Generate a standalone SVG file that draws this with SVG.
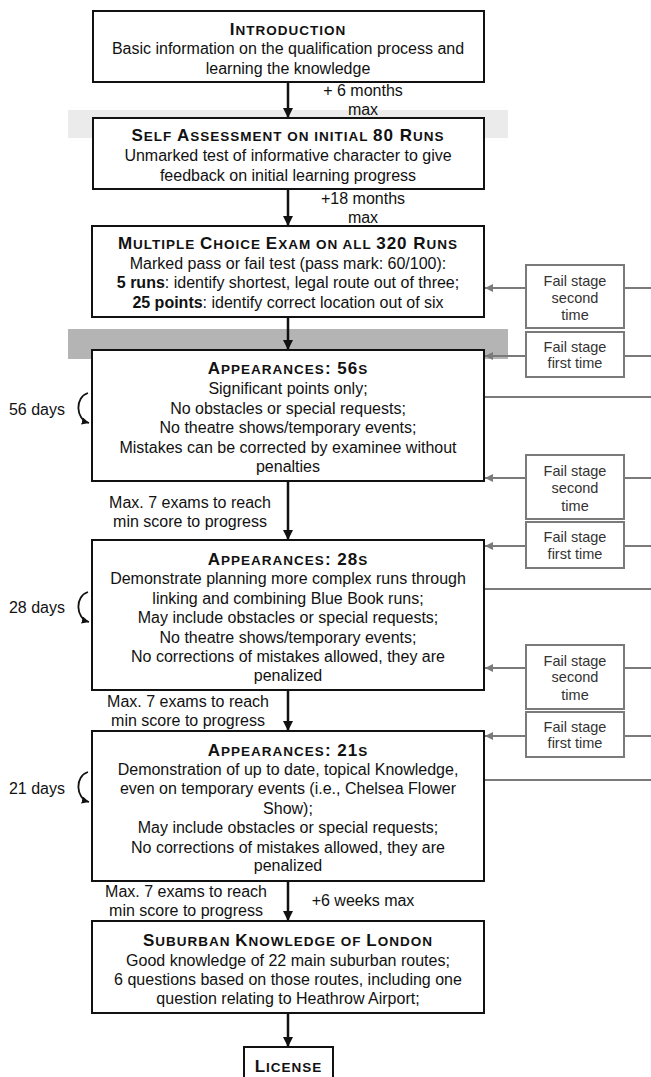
<svg xmlns="http://www.w3.org/2000/svg" width="651" height="1077" viewBox="0 0 651 1077">
<style>
text{font-family:"Liberation Sans",Arial,sans-serif;fill:#111}
.b{font-size:16px;text-anchor:middle}
.t{font-weight:bold;text-anchor:middle;letter-spacing:1px}
.L{font-size:17px}
.s{font-size:13.5px}
.box{fill:#fff;stroke:#111;stroke-width:2}
.fb{fill:#fff;stroke:#7a7a7a;stroke-width:2}
.ft{font-size:14.5px;text-anchor:middle;fill:#333}
.lab{font-size:16px}
.ar{stroke:#111;stroke-width:2.5;fill:none}
.ga{stroke:#7a7a7a;stroke-width:2;fill:none}
.cv{stroke:#111;stroke-width:1.8;fill:none}
</style>
<defs>
<marker id="ah" viewBox="0 0 10 10" refX="10" refY="5" markerWidth="4" markerHeight="4" orient="auto" markerUnits="strokeWidth"><path d="M0,0L10,5L0,10z" fill="#111"/></marker>
<marker id="gh" viewBox="0 0 10 10" refX="10" refY="5" markerWidth="4" markerHeight="4" orient="auto" markerUnits="strokeWidth"><path d="M0,0L10,5L0,10z" fill="#7a7a7a"/></marker>
<marker id="ch" viewBox="0 0 10 10" refX="10" refY="5" markerWidth="4" markerHeight="4" orient="auto" markerUnits="strokeWidth"><path d="M0,0L10,5L0,10z" fill="#111"/></marker>
</defs>
<g id="bands">
<rect x="68" y="110" width="440" height="28" fill="#ebebeb"/>
<rect x="68" y="329" width="440" height="30" fill="#b4b4b4"/>
</g>
<g id="connectors">
<line class="ar" x1="288" y1="82" x2="288" y2="118" marker-end="url(#ah)"/>
<line class="ar" x1="288" y1="189" x2="288" y2="226" marker-end="url(#ah)"/>
<line class="ar" x1="288" y1="317" x2="288" y2="350" marker-end="url(#ah)"/>
<line class="ar" x1="288" y1="481" x2="288" y2="540" marker-end="url(#ah)"/>
<line class="ar" x1="288" y1="690" x2="288" y2="731" marker-end="url(#ah)"/>
<line class="ar" x1="288" y1="881" x2="288" y2="921" marker-end="url(#ah)"/>
<line class="ar" x1="288" y1="1013" x2="288" y2="1047" marker-end="url(#ah)"/>
<line class="ga" x1="526" y1="288" x2="485" y2="288" marker-end="url(#gh)"/>
<line class="ga" x1="526" y1="356" x2="485" y2="356" marker-end="url(#gh)"/>
<line class="ga" x1="624" y1="288" x2="651" y2="288"/>
<line class="ga" x1="624" y1="356" x2="651" y2="356"/>
<line class="ga" x1="484" y1="397" x2="651" y2="397"/>
<line class="ga" x1="526" y1="478" x2="485" y2="478" marker-end="url(#gh)"/>
<line class="ga" x1="526" y1="546" x2="485" y2="546" marker-end="url(#gh)"/>
<line class="ga" x1="624" y1="478" x2="651" y2="478"/>
<line class="ga" x1="624" y1="546" x2="651" y2="546"/>
<line class="ga" x1="484" y1="589" x2="651" y2="589"/>
<line class="ga" x1="526" y1="668" x2="485" y2="668" marker-end="url(#gh)"/>
<line class="ga" x1="526" y1="736" x2="485" y2="736" marker-end="url(#gh)"/>
<line class="ga" x1="624" y1="668" x2="651" y2="668"/>
<line class="ga" x1="624" y1="736" x2="651" y2="736"/>
<line class="ga" x1="484" y1="780" x2="651" y2="780"/>
<path class="cv" d="M88,393 C75,397 75,419 89,423" marker-end="url(#ch)"/>
<path class="cv" d="M88,592 C75,596 75,618 89,622" marker-end="url(#ch)"/>
<path class="cv" d="M88,772 C75,776 75,798 89,802" marker-end="url(#ch)"/>
</g>
<g id="labels">
<text class="b" x="363" y="96">+ 6 months</text>
<text class="b" x="363" y="115">max</text>
<text class="b" x="363" y="204">+18 months</text>
<text class="b" x="363" y="223">max</text>
<text class="b" x="190" y="508">Max. 7 exams to reach</text>
<text class="b" x="190" y="527">min score to progress</text>
<text class="b" x="188" y="707">Max. 7 exams to reach</text>
<text class="b" x="188" y="726">min score to progress</text>
<text class="b" x="186" y="897">Max. 7 exams to reach</text>
<text class="b" x="186" y="916">min score to progress</text>
<text class="b" x="363" y="906">+6 weeks max</text>
<text class="lab" x="65" y="415" text-anchor="end">56 days</text>
<text class="lab" x="65" y="613" text-anchor="end">28 days</text>
<text class="lab" x="65" y="794" text-anchor="end">21 days</text>
</g>
<g id="introduction">
<rect class="box" x="93" y="11" width="391" height="71"/>
<text class="t" x="288" y="35"><tspan class="L">I</tspan><tspan class="s">NTRODUCTION</tspan></text>
<text class="b" x="288" y="54">Basic information on the qualification process and</text>
<text class="b" x="288" y="74">learning the knowledge</text>
</g>
<g id="self-assessment">
<rect class="box" x="93" y="118" width="391" height="71"/>
<text class="t" x="288" y="141"><tspan class="L">S</tspan><tspan class="s">ELF </tspan><tspan class="L">A</tspan><tspan class="s">SSESSMENT ON INITIAL </tspan><tspan class="L">80 R</tspan><tspan class="s">UNS</tspan></text>
<text class="b" x="288" y="161">Unmarked test of informative character to give</text>
<text class="b" x="288" y="181">feedback on initial learning progress</text>
</g>
<g id="multiple-choice">
<rect class="box" x="92" y="226" width="392" height="91"/>
<text class="t" x="288" y="249"><tspan class="L">M</tspan><tspan class="s">ULTIPLE </tspan><tspan class="L">C</tspan><tspan class="s">HOICE </tspan><tspan class="L">E</tspan><tspan class="s">XAM ON ALL </tspan><tspan class="L">320 R</tspan><tspan class="s">UNS</tspan></text>
<text class="b" x="288" y="268.5">Marked pass or fail test (pass mark: 60/100):</text>
<text class="b" x="288" y="288"><tspan font-weight="bold">5 runs</tspan>: identify shortest, legal route out of three;</text>
<text class="b" x="288" y="307.5"><tspan font-weight="bold">25 points</tspan>: identify correct location out of six</text>
</g>
<g id="appearances-56">
<rect class="box" x="92" y="350" width="392" height="131"/>
<text class="t" x="288" y="374"><tspan class="L">A</tspan><tspan class="s">PPEARANCES</tspan><tspan class="L">: 56</tspan><tspan class="s">S</tspan></text>
<text class="b" x="288" y="394">Significant points only;</text>
<text class="b" x="288" y="413.5">No obstacles or special requests;</text>
<text class="b" x="288" y="433">No theatre shows/temporary events;</text>
<text class="b" x="288" y="452.5">Mistakes can be corrected by examinee without</text>
<text class="b" x="288" y="472">penalties</text>
</g>
<g id="appearances-28">
<rect class="box" x="92" y="540" width="392" height="150"/>
<text class="t" x="288" y="565"><tspan class="L">A</tspan><tspan class="s">PPEARANCES</tspan><tspan class="L">: 28</tspan><tspan class="s">S</tspan></text>
<text class="b" x="288" y="584">Demonstrate planning more complex runs through</text>
<text class="b" x="288" y="603.5">linking and combining Blue Book runs;</text>
<text class="b" x="288" y="623">May include obstacles or special requests;</text>
<text class="b" x="288" y="643">No theatre shows/temporary events;</text>
<text class="b" x="288" y="662">No corrections of mistakes allowed, they are</text>
<text class="b" x="288" y="681">penalized</text>
</g>
<g id="appearances-21">
<rect class="box" x="92" y="731" width="392" height="150"/>
<text class="t" x="288" y="756"><tspan class="L">A</tspan><tspan class="s">PPEARANCES</tspan><tspan class="L">: 21</tspan><tspan class="s">S</tspan></text>
<text class="b" x="288" y="774.5">Demonstration of up to date, topical Knowledge,</text>
<text class="b" x="288" y="794">even on temporary events (i.e., Chelsea Flower</text>
<text class="b" x="288" y="813.5">Show);</text>
<text class="b" x="288" y="833">May include obstacles or special requests;</text>
<text class="b" x="288" y="852.5">No corrections of mistakes allowed, they are</text>
<text class="b" x="288" y="871">penalized</text>
</g>
<g id="suburban">
<rect class="box" x="92" y="921" width="392" height="92"/>
<text class="t" x="288" y="946"><tspan class="L">S</tspan><tspan class="s">UBURBAN </tspan><tspan class="L">K</tspan><tspan class="s">NOWLEDGE OF </tspan><tspan class="L">L</tspan><tspan class="s">ONDON</tspan></text>
<text class="b" x="288" y="965.5">Good knowledge of 22 main suburban routes;</text>
<text class="b" x="288" y="984.5">6 questions based on those routes, including one</text>
<text class="b" x="288" y="1003.5">question relating to Heathrow Airport;</text>
</g>
<g id="license">
<rect class="box" x="244" y="1047" width="89" height="45"/>
<text class="t" x="288.5" y="1072"><tspan class="L">L</tspan><tspan class="s">ICENSE</tspan></text>
</g>
<g id="fail-a2">
<rect class="fb" x="526" y="265" width="98" height="63"/>
<text class="ft" x="575" y="286">Fail stage</text>
<text class="ft" x="575" y="302.5">second</text>
<text class="ft" x="575" y="320">time</text>
</g>
<g id="fail-a1">
<rect class="fb" x="526" y="332" width="98" height="45"/>
<text class="ft" x="575" y="352">Fail stage</text>
<text class="ft" x="575" y="368">first time</text>
</g>
<g id="fail-b2">
<rect class="fb" x="526" y="455" width="98" height="64"/>
<text class="ft" x="575" y="476">Fail stage</text>
<text class="ft" x="575" y="493">second</text>
<text class="ft" x="575" y="511">time</text>
</g>
<g id="fail-b1">
<rect class="fb" x="526" y="522" width="98" height="46"/>
<text class="ft" x="575" y="542">Fail stage</text>
<text class="ft" x="575" y="559">first time</text>
</g>
<g id="fail-c2">
<rect class="fb" x="526" y="645" width="98" height="64"/>
<text class="ft" x="575" y="666">Fail stage</text>
<text class="ft" x="575" y="682">second</text>
<text class="ft" x="575" y="700">time</text>
</g>
<g id="fail-c1">
<rect class="fb" x="526" y="712" width="98" height="45"/>
<text class="ft" x="575" y="732">Fail stage</text>
<text class="ft" x="575" y="748">first time</text>
</g>
</svg>
